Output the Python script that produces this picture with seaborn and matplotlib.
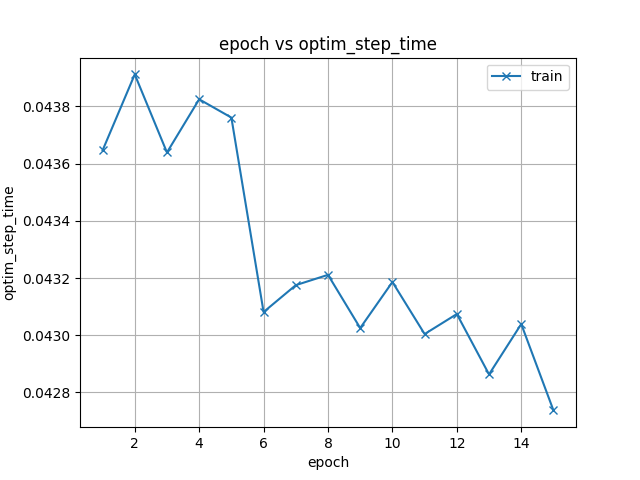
import numpy as np
import pandas as pd
import seaborn as sns
from matplotlib import pyplot as plt

epoch = list(range(1, 16))
optim_step_time = [0.043646, 0.043912, 0.043639, 0.043825, 0.043761,
                   0.043081, 0.043175, 0.043211, 0.043025, 0.043186,
                   0.043004, 0.043074, 0.042863, 0.043039, 0.042737]

df = pd.DataFrame({'epoch': epoch, 'optim_step_time': optim_step_time})

plt.figure(figsize=[6.4, 4.8], dpi=100)
ax = sns.lineplot(x='epoch', y='optim_step_time', data=df, marker='x',
                  color='#1f77b4', markeredgecolor='#1f77b4', mew=1,
                  markersize=6, label='train')
ax.grid(True)
plt.title('epoch vs optim_step_time')
plt.xlabel('epoch')
plt.ylabel('optim_step_time')
plt.legend(loc='upper right')
plt.savefig('out.png', dpi=100)
